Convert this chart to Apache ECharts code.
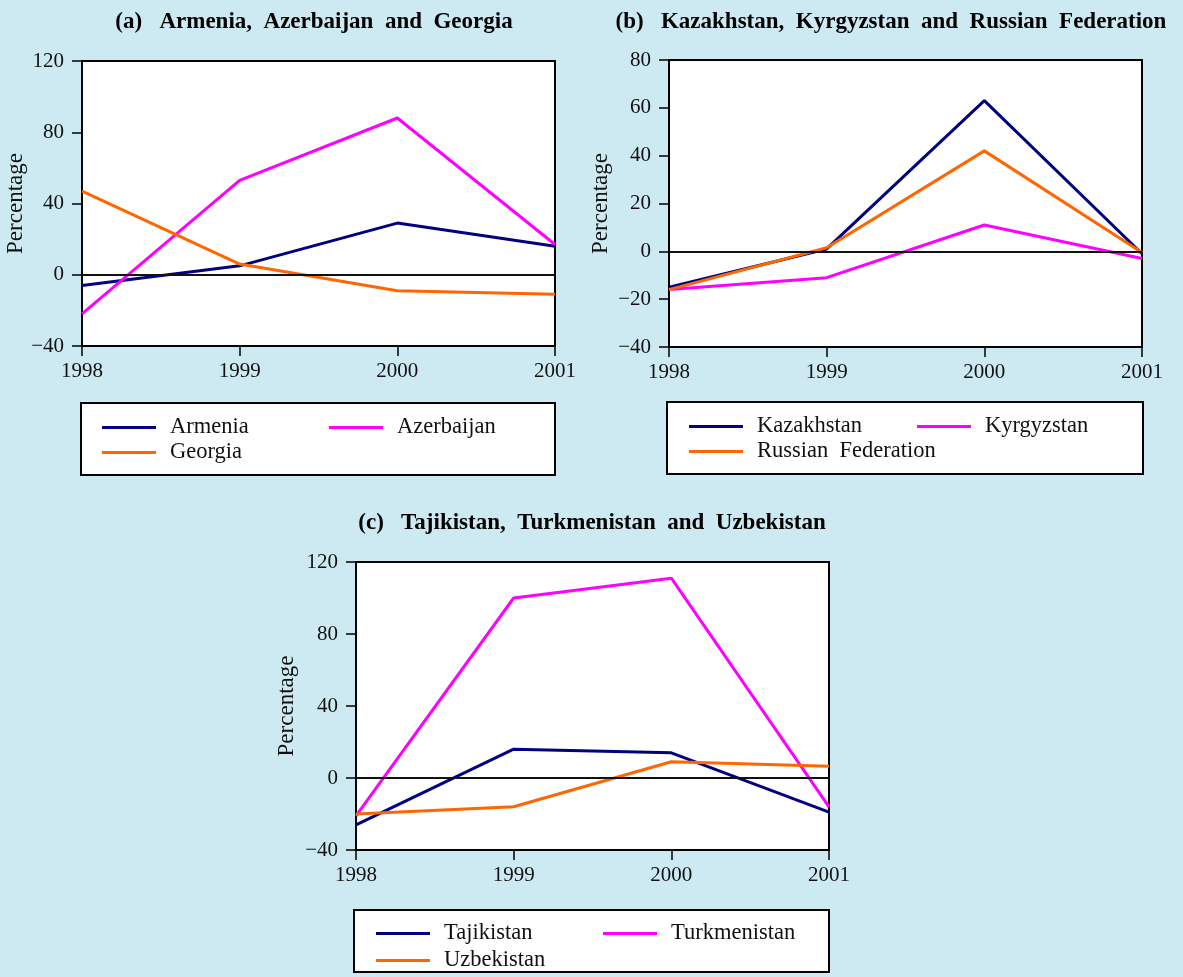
<!DOCTYPE html>
<html>
<head>
<meta charset="utf-8">
<title>Percentage change, 1998–2001</title>
<script src="https://cdn.jsdelivr.net/npm/echarts@6/dist/echarts.min.js"></script>
<style>
  html, body { margin: 0; padding: 0; background: #cdeaf2; }
  #chart { width: 1183px; height: 977px; }
</style>
</head>
<body>
<div id="chart"></div>
<script>
// Years on the horizontal axis
const years = ['1998', '1999', '2000', '2001'];

// (a) Armenia, Azerbaijan and Georgia
const armenia = [-6, 5, 29, 16];
const azerbaijan = [-22, 53, 88, 17];
const georgia = [47, 6, -9, -11];

// (b) Kazakhstan, Kyrgyzstan and Russian Federation
const kazakhstan = [-15, 1, 63, -1];
const kyrgyzstan = [-16, -11, 11, -3];
const russia = [-16, 1.5, 42, -0.5];

// (c) Tajikistan, Turkmenistan and Uzbekistan
const tajikistan = [-26, 16, 14, -19];
const turkmenistan = [-21, 100, 111, -16];
const uzbekistan = [-20, -16, 9, 6.5];

// Panel titles and y-axis ranges
const panelTitles = [
  '(a)   Armenia,  Azerbaijan  and  Georgia',
  '(b)   Kazakhstan,  Kyrgyzstan  and  Russian  Federation',
  '(c)   Tajikistan,  Turkmenistan  and  Uzbekistan'
];
const yTicksA = [-40, 0, 40, 80, 120];
const yTicksB = [-40, -20, 0, 20, 40, 60, 80];
const yTicksC = [-40, 0, 40, 80, 120];

const NAVY = '#000080', MAGENTA = '#ff00ff', ORANGE = '#ff6600';
const FONT = '"Liberation Serif", "Times New Roman", serif';

const grids = [
  { left: 82, top: 61, width: 473, height: 285 },
  { left: 669, top: 60, width: 473, height: 287 },
  { left: 356, top: 562, width: 473, height: 288 }
];

function minusFmt(v) { return String(v).replace('-', '\u2212'); }

function xAxisFor(i) {
  return {
    type: 'category', gridIndex: i, data: years, boundaryGap: false,
    axisLine: { show: true, onZero: false, lineStyle: { color: '#000', width: 2 } },
    axisTick: { show: true, length: 10, inside: false, lineStyle: { color: '#000', width: 1.5 } },
    axisLabel: { color: '#111', fontFamily: FONT, fontSize: 21, margin: 15 },
    splitLine: { show: false }
  };
}

function yAxisFor(i, ticks, gap) {
  return {
    type: 'value', gridIndex: i,
    min: ticks[0], max: ticks[ticks.length - 1], interval: ticks[1] - ticks[0],
    name: 'Percentage', nameLocation: 'middle', nameRotate: 90, nameGap: gap,
    nameTextStyle: { color: '#111', fontFamily: FONT, fontSize: 23 },
    axisLine: { show: true, onZero: false, lineStyle: { color: '#000', width: 2 } },
    axisTick: { show: true, length: 10, inside: false, lineStyle: { color: '#000', width: 1.5 } },
    axisLabel: { color: '#111', fontFamily: FONT, fontSize: 21, margin: 18, formatter: minusFmt },
    splitLine: { show: false }
  };
}

function zeroLine() {
  return {
    silent: true, symbol: 'none', label: { show: false },
    lineStyle: { color: '#111', width: 1.8, type: 'solid' },
    data: [{ yAxis: 0 }]
  };
}

function line(name, data, color, idx, withZero) {
  const s = {
    name: name, type: 'line', data: data,
    xAxisIndex: idx, yAxisIndex: idx,
    showSymbol: false, symbol: 'none',
    lineStyle: { color: color, width: 3 },
    itemStyle: { color: color },
    animation: false, z: 3
  };
  if (withZero) s.markLine = zeroLine();
  return s;
}

// One legend entry placed at a given point (line sample start, row centre)
function legendItem(name, x, y) {
  return {
    data: [name], left: x, top: y - 12, padding: 0, z: 6,
    icon: 'rect', itemWidth: 54, itemHeight: 3, selectedMode: false,
    textStyle: { color: '#111', fontFamily: FONT, fontSize: 22.5, lineHeight: 23, padding: [0, 0, 0, 9] }
  };
}

function box(x1, y1, x2, y2) {
  return {
    type: 'rect', z: 1, silent: true,
    shape: { x: x1, y: y1, width: x2 - x1, height: y2 - y1 },
    style: { fill: '#fff', stroke: '#000', lineWidth: 2 }
  };
}

function titleText(text, cx, cy) {
  return {
    type: 'text', z: 2, silent: true,
    style: {
      text: text, x: cx, y: cy, align: 'center', verticalAlign: 'middle',
      font: 'bold 23px ' + FONT, fill: '#000'
    }
  };
}

const chart = echarts.init(document.getElementById('chart'), null, { renderer: 'canvas' });

chart.setOption({
  backgroundColor: '#cdeaf2',
  animation: false,
  grid: grids.map(g => Object.assign({
    show: true, backgroundColor: '#fff', borderColor: '#000', borderWidth: 2, containLabel: false
  }, g)),
  xAxis: [xAxisFor(0), xAxisFor(1), xAxisFor(2)],
  yAxis: [yAxisFor(0, yTicksA, 53), yAxisFor(1, yTicksB, 57), yAxisFor(2, yTicksC, 58)],
  series: [
    line('Armenia', armenia, NAVY, 0, true),
    line('Azerbaijan', azerbaijan, MAGENTA, 0, false),
    line('Georgia', georgia, ORANGE, 0, false),
    line('Kazakhstan', kazakhstan, NAVY, 1, true),
    line('Kyrgyzstan', kyrgyzstan, MAGENTA, 1, false),
    line('Russian  Federation', russia, ORANGE, 1, false),
    line('Tajikistan', tajikistan, NAVY, 2, true),
    line('Turkmenistan', turkmenistan, MAGENTA, 2, false),
    line('Uzbekistan', uzbekistan, ORANGE, 2, false)
  ],
  legend: [
    legendItem('Armenia', 102, 428),
    legendItem('Azerbaijan', 329, 428),
    legendItem('Georgia', 102, 453),
    legendItem('Kazakhstan', 689, 427),
    legendItem('Kyrgyzstan', 917, 427),
    legendItem('Russian  Federation', 689, 452),
    legendItem('Tajikistan', 376, 934),
    legendItem('Turkmenistan', 603, 934),
    legendItem('Uzbekistan', 376, 961)
  ],
  graphic: [
    titleText(panelTitles[0], 314, 22),
    titleText(panelTitles[1], 891, 22),
    titleText(panelTitles[2], 592, 523),
    box(81, 403, 555, 475),
    box(667, 402, 1143, 474),
    box(354, 910, 829, 972)
  ]
});
</script>
</body>
</html>
